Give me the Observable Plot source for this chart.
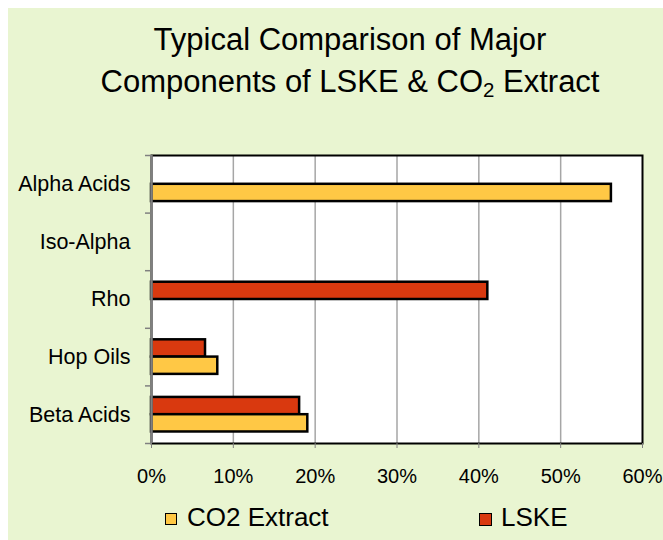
<!DOCTYPE html>
<html>
<head>
<meta charset="utf-8">
<script src="https://cdn.jsdelivr.net/npm/d3@7"></script>
<script src="https://cdn.jsdelivr.net/npm/@observablehq/plot@0.6"></script>
<style>
  html, body { margin: 0; padding: 0; background: #ffffff; }
  #chart { position: relative; width: 663px; height: 540px; overflow: hidden; font-family: "Liberation Sans", Arial, sans-serif; }
  #bg { position: absolute; left: 8px; top: 8px; width: 655px; height: 532px; background: #E9F5D1; }
  #title { position: absolute; left: 0; top: 19px; width: 700px; text-align: center; font-size: 31px; line-height: 42px; color: #000; }
  #title sub { font-size: 0.66em; line-height: 0; vertical-align: -0.22em; }
  #plot { position: absolute; left: 0; top: 130px; width: 663px; height: 360px; }
  #plot svg { max-width: none; }
  .leg { position: absolute; font-size: 26px; line-height: 30px; color: #000; white-space: nowrap; }
  .sw { position: absolute; box-sizing: border-box; border: 1.5px solid #000; }
</style>
</head>
<body>
<div id="chart">
  <div id="bg"></div>
  <div id="title">Typical Comparison of Major<br>Components of LSKE &amp; CO<sub>2</sub> Extract</div>
  <div id="plot"></div>
  <div id="legend"></div>
</div>
<script>
// ---- data ----
const categories = ["Alpha Acids", "Iso-Alpha", "Rho", "Hop Oils", "Beta Acids"];
const seriesNames = ["CO2 Extract", "LSKE"];
const co2Extract = [56.2, 0, 0, 8.1, 19.1];
const lske = [0, 0, 41.1, 6.6, 18.1];
const xTicks = [0, 10, 20, 30, 40, 50, 60];
const seriesColors = ["#FFC845", "#D9390F"];

// ---- table ----
const rows = [];
categories.forEach((c, i) => {
  rows.push({category: c, series: seriesNames[1], value: lske[i]});
  rows.push({category: c, series: seriesNames[0], value: co2Extract[i]});
});
const drawn = rows.filter(d => d.value > 0);

// ---- layout ----
const W = 663, H = 360;
const mT = 25, mB = 47, mL = 151, mR = 21;
const plotH = H - mT - mB;
const step = plotH / categories.length;
const bandFrac = 0.6;
const half = step * bandFrac / 2;
const tickLenUnits = 6 * 60 / (W - mL - mR);

const chart = Plot.plot({
  width: W,
  height: H,
  marginTop: mT,
  marginBottom: mB,
  marginLeft: mL,
  marginRight: mR,
  style: "background: transparent; font-family: 'Liberation Sans', Arial, sans-serif; font-size: 20px; color: #000; overflow: visible; max-width: none;",
  x: {domain: [0, 60], axis: null},
  y: {domain: categories, paddingInner: 1 - bandFrac, paddingOuter: (1 - bandFrac) / 2, round: false, axis: null},
  color: {domain: seriesNames, range: seriesColors},
  marks: [
    Plot.frame({fill: "#ffffff"}),
    Plot.ruleX(xTicks.filter(t => t > 0 && t < 60), {stroke: "#a6a6a6", strokeWidth: 1.5}),
    Plot.barX(drawn.filter(d => d.series === "LSKE"), {
      x: "value", y: "category", fill: "series",
      insetBottom: half, stroke: "#000", strokeWidth: 2.5
    }),
    Plot.barX(drawn.filter(d => d.series === "CO2 Extract"), {
      x: "value", y: "category", fill: "series",
      insetTop: half, stroke: "#000", strokeWidth: 2.5
    }),
    Plot.frame({stroke: "#000", strokeWidth: 2}),
    Plot.ruleX([0], {stroke: "#808080", strokeWidth: 2.5}),
    Plot.ruleY(categories, {y: d => d, x1: -tickLenUnits, x2: 0, dy: -step / 2, stroke: "#808080", strokeWidth: 1.5}),
    Plot.ruleY([categories[categories.length - 1]], {y: d => d, x1: -tickLenUnits, x2: 0, dy: step / 2, stroke: "#808080", strokeWidth: 1.5}),
    Plot.axisX({ticks: xTicks, tickSize: 5, tickPadding: 20, tickFormat: d => d + "%", fontSize: 20, stroke: "#808080", fill: "#000", label: null}),
    Plot.axisY({tickSize: 0, tickPadding: 21, fontSize: 21.5, fill: "#000", label: null})
  ]
});
document.getElementById("plot").appendChild(chart);

// ---- legend ----
const legend = document.getElementById("legend");
const legendPos = [{sx: 165, tx: 187, size: 12}, {sx: 479, tx: 501, size: 13}];
seriesNames.forEach((name, i) => {
  const p = legendPos[i];
  const sw = document.createElement("div");
  sw.className = "sw";
  sw.style.left = p.sx + "px";
  sw.style.top = "513px";
  sw.style.width = p.size + "px";
  sw.style.height = p.size + "px";
  sw.style.background = seriesColors[i];
  legend.appendChild(sw);
  const t = document.createElement("div");
  t.className = "leg";
  t.style.left = p.tx + "px";
  t.style.top = "502px";
  t.textContent = name;
  legend.appendChild(t);
});
</script>
</body>
</html>
